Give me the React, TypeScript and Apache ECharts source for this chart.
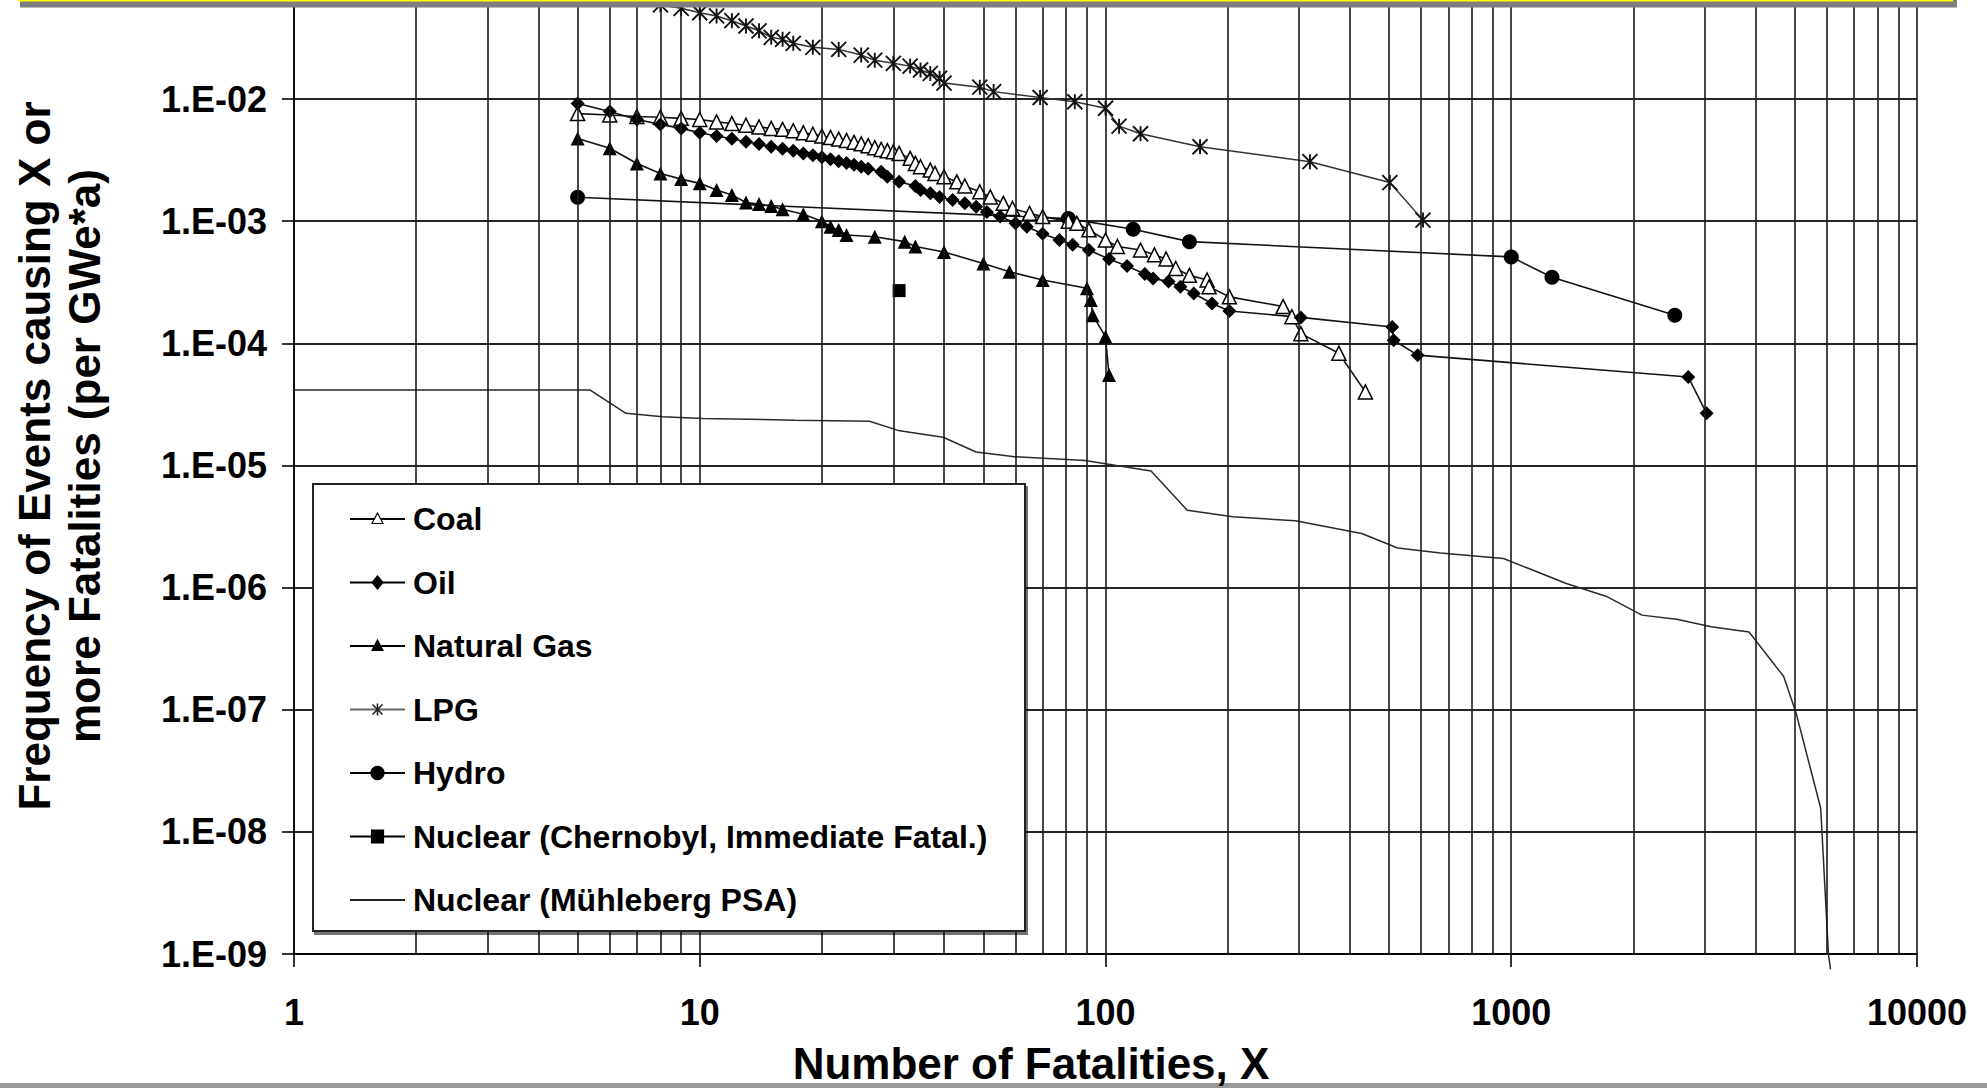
import React, { useEffect, useRef } from 'react';
import * as echarts from 'echarts';

const FONT = '"Liberation Sans", Arial, Helvetica, sans-serif';

const seriesNames = [
  'Coal',
  'Oil',
  'Natural Gas',
  'LPG',
  'Hydro',
  'Nuclear (Chernobyl, Immediate Fatal.)',
  'Nuclear (Mühleberg PSA)',
];

const xTitle = 'Number of Fatalities, X';
const yTitle = ['Frequency of Events causing X or', 'more Fatalities (per GWe*a)'];

const xTickLabels = ['1', '10', '100', '1000', '10000'];
const yTickLabels = ['1.E-09', '1.E-08', '1.E-07', '1.E-06', '1.E-05', '1.E-04', '1.E-03', '1.E-02'];

const minorGridX = [
  2, 3, 4, 5, 6, 7, 8, 9,
  20, 30, 40, 50, 60, 70, 80, 90,
  200, 300, 400, 500, 600, 700, 800, 900,
  2000, 3000, 4000, 5000, 6000, 7000, 8000, 9000,
];

const coalX = [5, 6, 7, 8, 9, 10, 11, 12, 13, 14, 15, 16, 17, 18, 19, 20, 21, 22, 23, 24, 25, 26, 27, 28, 29, 30,
  31, 33, 34, 35, 37, 38, 40, 43, 45, 49, 52, 56, 59, 65, 70, 81, 85, 91, 100, 107, 122, 132, 141, 149, 161, 178, 180, 202, 274, 288, 303, 376, 437];
const coalY = [7.6e-3, 7.4e-3, 7.2e-3, 7.1e-3, 6.95e-3, 6.8e-3, 6.5e-3, 6.3e-3, 6.1e-3, 5.9e-3, 5.75e-3, 5.65e-3, 5.5e-3, 5.3e-3, 5.15e-3, 4.98e-3, 4.85e-3, 4.7e-3, 4.58e-3, 4.42e-3, 4.3e-3, 4.15e-3, 4.0e-3, 3.87e-3, 3.78e-3, 3.7e-3,
  3.59e-3, 3.27e-3, 2.97e-3, 2.79e-3, 2.62e-3, 2.46e-3, 2.31e-3, 2.1e-3, 1.94e-3, 1.74e-3, 1.58e-3, 1.4e-3, 1.27e-3, 1.16e-3, 1.09e-3, 1.0e-3, 9.6e-4, 8.5e-4, 7.0e-4, 6.2e-4, 5.8e-4, 5.3e-4, 4.9e-4, 4.1e-4, 3.6e-4, 3.3e-4, 2.9e-4, 2.4e-4, 2.0e-4, 1.65e-4, 1.2e-4, 8.3e-5, 4.0e-5];

const oilX = [5, 6, 7, 8, 9, 10, 11, 12, 13, 14, 15, 16, 17, 18, 19, 20, 21, 22, 23, 24, 25, 26,
  28, 29, 31, 34, 35, 37, 39, 42, 45, 48, 51, 55, 60, 64, 70, 77, 83, 91, 102, 113, 125, 131, 143, 153, 165, 183, 202, 303, 509, 513, 588, 2730, 3030];
const oilY = [9.2e-3, 7.9e-3, 6.8e-3, 6.2e-3, 5.75e-3, 5.3e-3, 4.98e-3, 4.73e-3, 4.47e-3, 4.28e-3, 4.07e-3, 3.92e-3, 3.77e-3, 3.59e-3, 3.46e-3, 3.33e-3, 3.21e-3, 3.1e-3, 2.99e-3, 2.9e-3, 2.79e-3, 2.69e-3,
  2.54e-3, 2.31e-3, 2.1e-3, 1.94e-3, 1.8e-3, 1.69e-3, 1.58e-3, 1.49e-3, 1.4e-3, 1.31e-3, 1.19e-3, 1.09e-3, 9.6e-4, 9.0e-4, 7.9e-4, 7.0e-4, 6.4e-4, 5.8e-4, 4.9e-4, 4.3e-4, 3.7e-4, 3.4e-4, 3.2e-4, 2.9e-4, 2.56e-4, 2.12e-4, 1.84e-4, 1.63e-4, 1.36e-4, 1.06e-4, 8.0e-5, 5.3e-5, 2.67e-5];

const gasX = [5, 6, 7, 8, 9, 10, 11, 12, 13, 14, 15, 16, 18, 20, 21, 22, 23, 27, 32, 34, 40, 50, 58, 70, 90, 92, 93, 100, 102];
const gasY = [4.76e-3, 3.95e-3, 2.97e-3, 2.46e-3, 2.21e-3, 2.04e-3, 1.8e-3, 1.64e-3, 1.42e-3, 1.38e-3, 1.33e-3, 1.25e-3, 1.14e-3, 1.0e-3,
  9.0e-4, 8.45e-4, 7.7e-4, 7.45e-4, 6.8e-4, 6.2e-4, 5.6e-4, 4.5e-4, 3.85e-4, 3.3e-4, 2.82e-4, 2.26e-4, 1.7e-4, 1.13e-4, 5.5e-5];

const lpgX = [7, 8, 9, 10, 11, 12, 13, 14, 15, 16, 17, 19, 22, 25, 27, 30, 33, 35, 37, 39, 40, 49, 53, 69, 84, 100, 108, 122, 171, 319, 502, 606];
const lpgY = [0.068, 0.059, 0.0553, 0.0509, 0.0479, 0.0438, 0.0396, 0.0362, 0.032, 0.0308, 0.0286, 0.0265, 0.0255, 0.0229, 0.0208, 0.0196, 0.0186, 0.0173, 0.0162, 0.0148,
  0.0135, 0.0125, 0.0115, 0.0103, 9.5e-3, 8.4e-3, 6.0e-3, 5.2e-3, 4.07e-3, 3.07e-3, 2.07e-3, 1.02e-3];

const hydroX = [5, 81, 117, 161, 1000, 1260, 2530];
const hydroY = [1.57e-3, 1.05e-3, 8.6e-4, 6.8e-4, 5.1e-4, 3.47e-4, 1.7e-4];

const chernobylX = [31];
const chernobylY = [2.7e-4];

const muhlebergX = [1, 5.37, 6.58, 8.1, 10.2, 17.2, 26.2, 31.1, 39.8, 48, 59.7, 89, 129.5, 159, 206, 294, 428, 525, 669, 957, 1367, 1726, 2099, 2555, 3110, 3855, 4690, 5040, 5790, 6050, 6120];
const muhlebergY = [4.14e-5, 4.14e-5, 2.67e-5, 2.5e-5, 2.42e-5, 2.35e-5, 2.3e-5, 1.92e-5, 1.7e-5, 1.29e-5, 1.18e-5, 1.1e-5, 9.0e-6, 4.3e-6, 3.8e-6, 3.52e-6, 2.77e-6, 2.11e-6, 1.92e-6, 1.73e-6,
  1.08e-6, 8.4e-7, 5.95e-7, 5.5e-7, 4.77e-7, 4.33e-7, 1.88e-7, 9.3e-8, 1.56e-8, 1e-9, 7.5e-10];

const pairs = (xs: number[], ys: number[]) => xs.map((x, i) => [x, ys[i]]);

const ASTERISK = 'path://M10 0L10 20M0 0L20 20M0 20L20 0';

// The chart div is shifted upward so that the top of the plot (1E-01) lies above the page.
const OFF = 40;

function legendMarker(kind: string, cx: number, cy: number): any[] {
  const z = 102;
  const s = { fill: '#000', stroke: '#000', lineWidth: 1.2 };
  switch (kind) {
    case 'openTri':
      return [{ type: 'polygon', z, shape: { points: [[cx, cy - 6], [cx + 5.5, cy + 4.5], [cx - 5.5, cy + 4.5]] }, style: { fill: '#fff', stroke: '#000', lineWidth: 1.2 } }];
    case 'diamond':
      return [{ type: 'polygon', z, shape: { points: [[cx, cy - 6.5], [cx + 5.5, cy], [cx, cy + 6.5], [cx - 5.5, cy]] }, style: s }];
    case 'tri':
      return [{ type: 'polygon', z, shape: { points: [[cx, cy - 6], [cx + 5.5, cy + 4.5], [cx - 5.5, cy + 4.5]] }, style: s }];
    case 'star':
      return [
        { type: 'line', z, shape: { x1: cx, y1: cy - 6, x2: cx, y2: cy + 6 }, style: { stroke: '#222', lineWidth: 1.6 } },
        { type: 'line', z, shape: { x1: cx - 5, y1: cy - 5, x2: cx + 5, y2: cy + 5 }, style: { stroke: '#222', lineWidth: 1.6 } },
        { type: 'line', z, shape: { x1: cx - 5, y1: cy + 5, x2: cx + 5, y2: cy - 5 }, style: { stroke: '#222', lineWidth: 1.6 } },
      ];
    case 'circle':
      return [{ type: 'circle', z, shape: { cx, cy, r: 6.5 }, style: s }];
    case 'square':
      return [{ type: 'rect', z, shape: { x: cx - 6, y: cy - 6.5, width: 12, height: 13 }, style: s }];
    default:
      return [];
  }
}

const legendKinds = ['openTri', 'diamond', 'tri', 'star', 'circle', 'square', 'none'];
const legendLineColors = ['#000', '#000', '#000', '#666', '#000', '#000', '#222'];

function App() {
  const ref = useRef<HTMLDivElement>(null);

  useEffect(() => {
    if (!ref.current) return;
    const chart = echarts.init(ref.current, null, { renderer: 'svg' });

    const lineBase = (name: string, data: number[][], extra: any) => ({
      type: 'line',
      name,
      data,
      z: 3,
      showSymbol: true,
      showAllSymbol: true,
      animation: false,
      silent: true,
      lineStyle: { color: '#111', width: 1.6 },
      ...extra,
    });

    const graphics: any[] = [];
    // legend box
    graphics.push({
      type: 'rect', z: 100,
      shape: { x: 313, y: 484 + OFF, width: 712, height: 447 },
      style: { fill: '#fff', stroke: '#222', lineWidth: 2, shadowColor: 'rgba(0,0,0,0.55)', shadowOffsetX: 2, shadowOffsetY: 3, shadowBlur: 0 },
    });
    seriesNames.forEach((nm, i) => {
      const cy = 519 + i * 63.5 + OFF;
      graphics.push({
        type: 'line', z: 101,
        shape: { x1: 350, y1: cy, x2: 405, y2: cy },
        style: { stroke: legendLineColors[i], lineWidth: 1.8 },
      });
      legendMarker(legendKinds[i], 377.5, cy).forEach((g) => graphics.push(g));
      graphics.push({
        type: 'text', z: 102, x: 413, y: cy,
        style: {
          text: nm, font: `bold 32px ${FONT}`, fill: '#000',
          textAlign: 'left', align: 'left', textVerticalAlign: 'middle', verticalAlign: 'middle',
        },
      });
    });
    // axis titles
    graphics.push({
      type: 'text', z: 120, x: 1031, y: 1063 + OFF,
      style: {
        text: xTitle, font: `bold 44px ${FONT}`, fill: '#000',
        textAlign: 'center', align: 'center', textVerticalAlign: 'middle', verticalAlign: 'middle',
      },
    });
    graphics.push({
      type: 'text', z: 100, x: 59, y: 456 + OFF, rotation: Math.PI / 2,
      style: {
        text: yTitle.join('\n'), font: `bold 44px ${FONT}`, fill: '#000', lineHeight: 50,
        textAlign: 'center', align: 'center', textVerticalAlign: 'middle', verticalAlign: 'middle',
      },
    });
    // frame bars
    graphics.push({ type: 'rect', z: 110, shape: { x: 20, y: OFF, width: 1937, height: 7.5 }, style: { fill: '#7f7f7f' } });
    graphics.push({ type: 'rect', z: 111, shape: { x: 18, y: OFF, width: 1935, height: 1.4 }, style: { fill: '#ffff00' } });
    graphics.push({ type: 'rect', z: 110, shape: { x: 0, y: 1083 + OFF, width: 1987, height: 5 }, style: { fill: '#999' } });

    const option: any = {
      animation: false,
      backgroundColor: '#fff',
      grid: { left: 294, right: 70, top: OFF - 23.1, bottom: 134 },
      xAxis: {
        type: 'log', logBase: 10, min: 1, max: 10000,
        axisLine: { show: true, onZero: false, lineStyle: { color: '#000', width: 1.6 } },
        axisTick: { show: true, inside: false, length: 13, lineStyle: { color: '#000', width: 1.6 } },
        axisLabel: {
          margin: 40, fontSize: 36, fontWeight: 'bold', fontFamily: FONT, color: '#000',
          showMinLabel: true, showMaxLabel: true,
          formatter: (v: number) => xTickLabels[Math.round(Math.log10(v))] ?? '',
        },
        splitLine: { show: true, lineStyle: { color: '#1a1a1a', width: 1.6 } },
      },
      yAxis: {
        type: 'log', logBase: 10, min: 1e-9, max: 0.1, splitNumber: 10,
        axisLine: { show: true, onZero: false, lineStyle: { color: '#000', width: 1.6 } },
        axisTick: { show: true, inside: false, length: 12, lineStyle: { color: '#000', width: 1.6 } },
        axisLabel: {
          margin: 27, fontSize: 36, fontWeight: 'bold', fontFamily: FONT, color: '#000',
          formatter: (v: number) => yTickLabels[Math.round(Math.log10(v)) + 9] ?? '',
        },
        splitLine: { show: true, lineStyle: { color: '#262626', width: 2 } },
      },
      graphic: { elements: graphics },
      series: [
        {
          type: 'line', name: 'minorGrid', data: [], z: 1, silent: true, animation: false,
          markLine: {
            silent: true, animation: false, symbol: ['none', 'none'],
            label: { show: false },
            lineStyle: { color: '#1a1a1a', width: 1.6, type: 'solid' },
            emphasis: { disabled: true },
            data: minorGridX.map((v) => ({ xAxis: v })),
          },
        },
        lineBase(seriesNames[6], pairs(muhlebergX, muhlebergY), {
          symbol: 'none', clip: false, lineStyle: { color: '#2a2a2a', width: 1.5 }, z: 2,
        }),
        lineBase(seriesNames[4], pairs(hydroX, hydroY), {
          symbol: 'circle', symbolSize: 15,
          itemStyle: { color: '#000', borderColor: '#000', borderWidth: 0 },
        }),
        lineBase(seriesNames[3], pairs(lpgX, lpgY), {
          symbol: ASTERISK, symbolSize: 15,
          lineStyle: { color: '#333', width: 1.5 },
          itemStyle: { color: 'none', borderColor: '#111', borderWidth: 1.9 },
        }),
        lineBase(seriesNames[2], pairs(gasX, gasY), {
          symbol: 'triangle', symbolSize: 14,
          itemStyle: { color: '#000', borderColor: '#000', borderWidth: 0 },
        }),
        lineBase(seriesNames[0], pairs(coalX, coalY), {
          symbol: 'triangle', symbolSize: 14,
          itemStyle: { color: '#fff', borderColor: '#000', borderWidth: 1.5 },
        }),
        lineBase(seriesNames[1], pairs(oilX, oilY), {
          symbol: 'diamond', symbolSize: 14,
          itemStyle: { color: '#000', borderColor: '#000', borderWidth: 0 },
        }),
        lineBase(seriesNames[5], pairs(chernobylX, chernobylY), {
          symbol: 'rect', symbolSize: 13,
          itemStyle: { color: '#000', borderColor: '#000', borderWidth: 0 },
        }),
      ],
    };

    chart.setOption(option);
    return () => chart.dispose();
  }, []);

  return (
    <div
      ref={ref}
      style={{ position: 'absolute', left: 0, top: -OFF, width: 1987, height: 1088 + OFF, background: '#fff' }}
    />
  );
}

export default App;
